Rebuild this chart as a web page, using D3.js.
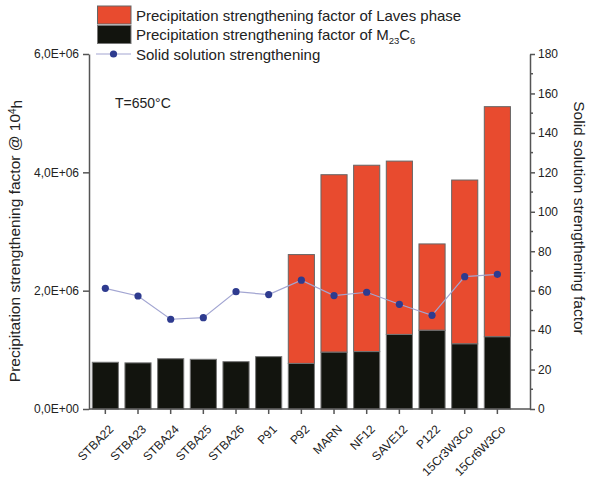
<!DOCTYPE html>
<html>
<head>
<meta charset="utf-8">
<script src="https://cdn.jsdelivr.net/npm/d3@7"></script>
<style>
  html, body { margin: 0; padding: 0; background: #fff; }
  svg { display: block; font-family: "Liberation Sans", Arial, sans-serif; }
</style>
</head>
<body>
<svg id="chart" width="589" height="481"></svg>
<script>
// Steel grades on the x axis
const categories = ["STBA22", "STBA23", "STBA24", "STBA25", "STBA26", "P91", "P92",
  "MARN", "NF12", "SAVE12", "P122", "15Cr3W3Co", "15Cr6W3Co"];
// Precipitation strengthening factor of M23C6 (bottom of stack)
const m23c6 = [0.79e6, 0.78e6, 0.85e6, 0.84e6, 0.80e6, 0.885e6, 0.77e6,
  0.96e6, 0.97e6, 1.26e6, 1.33e6, 1.10e6, 1.22e6];
// Precipitation strengthening factor of Laves phase (stacked on top)
const laves = [0, 0, 0, 0, 0, 0, 1.84e6,
  3.00e6, 3.15e6, 2.93e6, 1.46e6, 2.77e6, 3.89e6];
// Solid solution strengthening factor (right axis)
const solid = [61.2, 57.3, 45.5, 46.3, 59.5, 58.0, 65.3,
  57.5, 59.2, 53.1, 47.5, 67.1, 68.3];
// Axis tick values
const leftTicks = [0, 2e6, 4e6, 6e6];
const leftTickLabels = ["0,0E+00", "2,0E+06", "4,0E+06", "6,0E+06"];
const rightTicks = [0, 20, 40, 60, 80, 100, 120, 140, 160, 180];
const rightMinorTicks = [10, 30, 50, 70, 90, 110, 130, 150, 170];

const colLaves = "#e84b2f";
const colM23 = "#12140e";
const colDot = "#2e3b8f";
const colLine = "#a3a6d2";
const colAxis = "#555";

const svg = d3.select("#chart");
const plotLeft = 89, plotRight = 530, plotTop = 54, plotBottom = 409;
const step = 32.67;

const x = d3.scaleBand().domain(categories)
  .range([plotLeft, plotLeft + step * categories.length]).paddingInner(0.2).paddingOuter(0.1);
const yL = d3.scaleLinear().domain([0, 6e6]).range([plotBottom, plotTop]);
const yR = d3.scaleLinear().domain([0, 180]).range([plotBottom, plotTop]);

const rows = categories.map((c, i) => ({ cat: c, m23: m23c6[i], laves: laves[i], ss: solid[i] }));

// Stacked bars
const g = svg.append("g");
g.selectAll("rect.lav").data(rows.filter(d => d.laves > 0)).join("rect")
  .attr("x", d => x(d.cat)).attr("width", x.bandwidth())
  .attr("y", d => yL(d.m23 + d.laves)).attr("height", d => yL(d.m23) - yL(d.m23 + d.laves))
  .attr("fill", colLaves).attr("stroke", "#666").attr("stroke-width", 1);
g.selectAll("rect.m23").data(rows).join("rect")
  .attr("x", d => x(d.cat)).attr("width", x.bandwidth())
  .attr("y", d => yL(d.m23)).attr("height", d => yL(0) - yL(d.m23))
  .attr("fill", colM23).attr("stroke", "#777").attr("stroke-width", 1);

// Solid solution line + dots
const cx = d => x(d.cat) + x.bandwidth() / 2;
svg.append("path").datum(rows)
  .attr("d", d3.line().x(cx).y(d => yR(d.ss)))
  .attr("fill", "none").attr("stroke", colLine).attr("stroke-width", 1.2);
svg.selectAll("circle.ss").data(rows).join("circle")
  .attr("cx", cx).attr("cy", d => yR(d.ss)).attr("r", 3.6).attr("fill", colDot);

// Axes
const styleAxis = sel => {
  sel.selectAll("path,line").attr("stroke", colAxis).attr("stroke-width", 1.5);
  sel.selectAll("text").attr("fill", "#222").style("font-size", "12px")
    .style("font-family", "'Liberation Sans', Arial, sans-serif");
};
const axL = svg.append("g").attr("transform", `translate(${plotLeft},0)`)
  .call(d3.axisLeft(yL).tickValues(leftTicks).tickFormat((d, i) => leftTickLabels[i])
    .tickSizeInner(6).tickSizeOuter(0).tickPadding(4));
styleAxis(axL);

const axR = svg.append("g").attr("transform", `translate(${plotRight},0)`)
  .call(d3.axisRight(yR).tickValues(rightTicks).tickSizeInner(5).tickSizeOuter(0).tickPadding(3));
styleAxis(axR);
svg.append("g").attr("transform", `translate(${plotRight},0)`)
  .selectAll("line").data(rightMinorTicks).join("line")
  .attr("x1", 0).attr("x2", 3).attr("y1", d => yR(d)).attr("y2", d => yR(d))
  .attr("stroke", colAxis).attr("stroke-width", 1.5);

const axB = svg.append("g").attr("transform", `translate(0,${plotBottom})`)
  .call(d3.axisBottom(x).tickSizeInner(5).tickSizeOuter(0).tickFormat(""));
styleAxis(axB);
axB.select("path.domain").attr("d", `M${plotLeft},0H${plotRight}`);

// Category labels rotated 45°
svg.append("g").selectAll("text").data(categories).join("text")
  .attr("transform", d => `translate(${x(d) + x.bandwidth() / 2 + 3},${plotBottom + 15}) rotate(-45)`)
  .attr("text-anchor", "end").attr("dy", "0.7em")
  .style("font-size", "12px").attr("fill", "#222").text(d => d);

// Axis titles
svg.append("text").attr("transform", `translate(20,241) rotate(-90)`)
  .attr("text-anchor", "middle").style("font-size", "15.5px").attr("fill", "#222")
  .call(t => {
    t.append("tspan").text("Precipitation strengthening factor @ 10");
    t.append("tspan").attr("dy", "-0.45em").style("font-size", "10px").text("4");
    t.append("tspan").attr("dy", "0.45em").text("h");
  });
svg.append("text").attr("transform", `translate(574,218) rotate(90)`)
  .attr("text-anchor", "middle").style("font-size", "15.5px").attr("fill", "#222")
  .text("Solid solution strengthening factor");

// Temperature annotation
svg.append("text").attr("x", 115).attr("y", 108).style("font-size", "14px").attr("fill", "#222")
  .text("T=650°C");

// Legend
const lg = svg.append("g");
lg.append("rect").attr("x", 97.5).attr("y", 6).attr("width", 33.5).attr("height", 18)
  .attr("fill", colLaves).attr("stroke", "#666");
lg.append("rect").attr("x", 97.5).attr("y", 25.5).attr("width", 33.5).attr("height", 18)
  .attr("fill", colM23).attr("stroke", "#777");
lg.append("line").attr("x1", 96).attr("x2", 131).attr("y1", 54).attr("y2", 54)
  .attr("stroke", colLine).attr("stroke-width", 1.2);
lg.append("circle").attr("cx", 113.5).attr("cy", 54).attr("r", 3.6).attr("fill", colDot);
lg.append("text").attr("x", 136).attr("y", 20.5).style("font-size", "15px").attr("fill", "#222")
  .text("Precipitation strengthening factor of Laves phase");
lg.append("text").attr("x", 136).attr("y", 39.5).style("font-size", "15px").attr("fill", "#222")
  .call(t => {
    t.append("tspan").text("Precipitation strengthening factor of M");
    t.append("tspan").attr("dy", "4").style("font-size", "9.5px").text("23");
    t.append("tspan").attr("dy", "-4").text("C");
    t.append("tspan").attr("dy", "4").style("font-size", "9.5px").text("6");
  });
lg.append("text").attr("x", 136).attr("y", 59.5).style("font-size", "15px").attr("fill", "#222")
  .text("Solid solution strengthening");
</script>
</body>
</html>
